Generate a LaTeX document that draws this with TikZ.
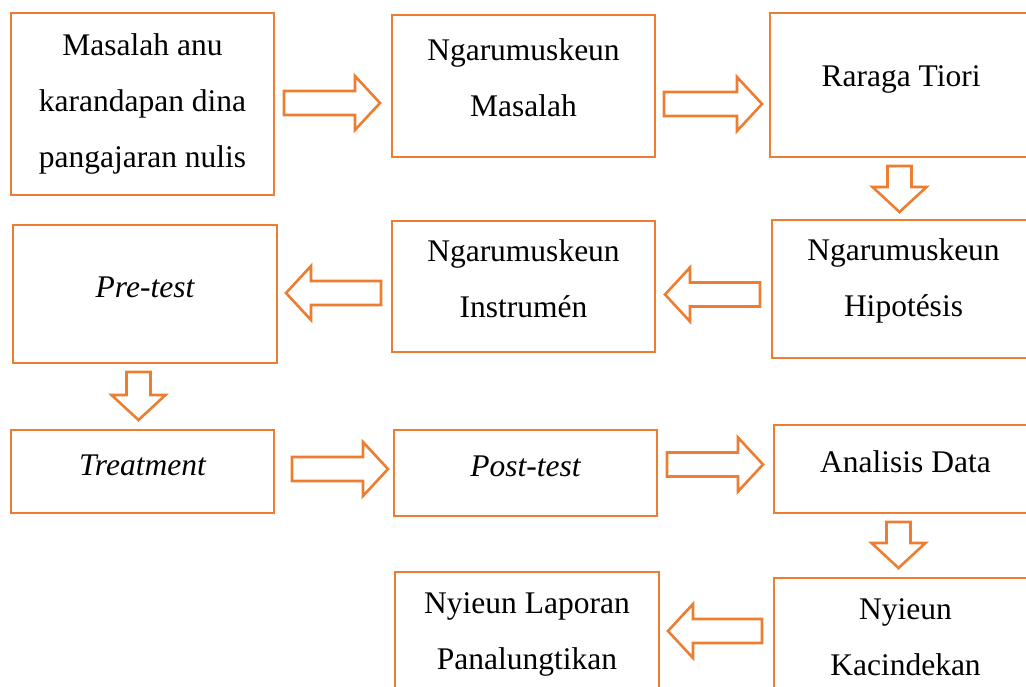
\documentclass[tikz,border=0pt]{standalone}
\usepackage{fontspec}
\setmainfont{Liberation Serif}
\definecolor{oren}{RGB}{237,125,49}
\tikzset{
  kotak/.style={draw=oren, line width=2.5pt, fill=white},
  teks/.style={align=center, font=\fontsize{31.5}{56}\selectfont},
  garispanah/.style={draw=oren, line width=2.6pt, fill=white, line join=miter},
  pics/panah/.style={code={
    \draw[garispanah] (0,-12) -- ({#1-25},-12) -- ({#1-25},-27) -- (#1,0) -- ({#1-25},27) -- ({#1-25},12) -- (0,12) -- cycle;}}
}
\begin{document}
\begin{tikzpicture}[x=1pt,y=-1pt]
\clip (0,0) rectangle (1026,687);
\useasboundingbox (0,0) rectangle (1026,687);

% kotak-kotak
\node[kotak, minimum width=263, minimum height=182] (masalah) at (142.5,104) {};
\node[kotak, minimum width=263, minimum height=142] (rumusmasalah) at (523.5,86) {};
\node[kotak, minimum width=263, minimum height=144] (raraga) at (901.5,85) {};
\node[kotak, minimum width=263, minimum height=138] (hipotesis) at (903.5,289) {};
\node[kotak, minimum width=263, minimum height=131] (instrumen) at (523.5,286.5) {};
\node[kotak, minimum width=264, minimum height=138] (pretest) at (145,294) {};
\node[kotak, minimum width=263, minimum height=83] (treatment) at (142.5,471.5) {};
\node[kotak, minimum width=263, minimum height=86] (posttest) at (525.5,473) {};
\node[kotak, minimum width=263, minimum height=88] (analisis) at (905.5,469) {};
\node[kotak, minimum width=263, minimum height=130] (kacindekan) at (905.5,643) {};
\node[kotak, minimum width=264, minimum height=133] (laporan) at (527,638.5) {};

% teks
\node[teks] (masalahteks) at (142.5,104) {Masalah anu\\karandapan dina\\pangajaran nulis};
\node[teks] (rumusmasalahteks) at (523.5,78) {Ngarumuskeun\\Masalah};
\node[teks] (raragateks) at (901,79) {Raraga Tiori};
\node[teks] (hipotesisteks) at (903.5,281) {Ngarumuskeun\\Hipotésis};
\node[teks] (instrumenteks) at (523.5,279) {Ngarumuskeun\\Instrumén};
\node[teks] (pretestteks) at (145,287) {\itshape Pre-test};
\node[teks] (treatmentteks) at (142.5,465) {\itshape Treatment};
\node[teks] (posttestteks) at (525.5,466) {\itshape Post-test};
\node[teks] (analisisteks) at (905.5,462) {Analisis Data};
\node[teks] (kacindekanteks) at (905.5,637.5) {Nyieun\\Kacindekan};
\node[teks] (laporanteks) at (527,634) {Nyieun Laporan\\Panalungtikan};

% panah
\pic at (284,103) {panah=96};
\pic at (664,104) {panah=98};
\pic[rotate=-90] at (899.5,166) {panah=46};
\pic[rotate=180] at (760,294.5) {panah=95};
\pic[rotate=180] at (381,293) {panah=95};
\pic[rotate=-90] at (138.5,372) {panah=48};
\pic at (292,469) {panah=96};
\pic at (667,464.5) {panah=96};
\pic[rotate=-90] at (898.5,522) {panah=46};
\pic[rotate=180] at (762,631) {panah=94};
\end{tikzpicture}
\end{document}
